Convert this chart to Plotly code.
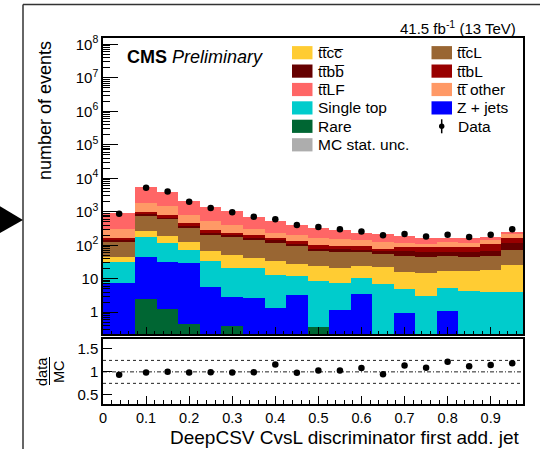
import plotly.graph_objects as go

# ---------------- data ----------------
bin_edges = [0.0, 0.075, 0.125, 0.175, 0.225, 0.275, 0.325, 0.375, 0.425, 0.475,
             0.525, 0.575, 0.625, 0.675, 0.725, 0.775, 0.825, 0.875, 0.925, 0.975]

rare = [0, 2.5, 1.26, 0.46, 0, 0.38, 0, 0, 0, 0.35, 0, 0, 0, 0, 0, 0, 0, 0, 0]
zjets = [7.5, 42.5, 29.7, 28.5, 5.7, 2.4, 2.7, 1.35, 3.2, 0, 1.2, 3.4, 0, 0.96, 0, 1.12, 0, 0, 0]
single_top = [23.5, 130, 86, 45, 27.3, 18.2, 18.3, 11.6, 8.6, 8.05, 6.3, 7.2, 7.1, 4.04, 3.1, 4.18, 4.4, 4.1, 4.1]
ttcc = [14, 95, 75, 47, 33, 31, 21, 22, 16.2, 15, 13.5, 12.8, 14.9, 10.5, 11.8, 11.3, 12.2, 13.7, 21.9]
ttcL = [76, 485, 408, 211, 139, 123, 104, 81, 64, 45.6, 45, 37.6, 34, 33.5, 31, 31.4, 28.4, 31.2, 48]
ttbb = [18, 95, 90, 48, 35, 30, 24, 23, 17, 10, 9, 9, 10, 17, 15, 14, 16, 20, 39]
ttbL = [25, 145, 100, 77, 50, 35, 26, 21, 27, 24, 23, 22, 14, 23, 25, 27, 28, 40, 57]
tt_other = [139, 875, 720, 353, 245, 165, 120, 80, 69, 61, 55, 47, 41, 28, 24, 36, 27, 37, 49]
ttLF = [647, 3530, 2390, 1290, 835, 635, 404, 295, 210, 174, 137, 101, 94, 75, 60, 45, 44, 36, 38]

data = [870, 5250, 4000, 2000, 1290, 970, 710, 600, 405, 350, 303, 258, 200, 215, 182, 205, 175, 205, 303]
ratio = [0.94, 0.985, 1.005, 0.985, 0.99, 0.985, 0.99, 1.16, 0.98, 1.03, 1.03, 1.085, 0.95,
         1.14, 1.09, 1.22, 1.12, 1.15, 1.19]
ratio_err = [0.015, 0.01, 0.01, 0.012, 0.014, 0.016, 0.018, 0.02, 0.022, 0.025, 0.028, 0.03,
             0.035, 0.04, 0.045, 0.045, 0.045, 0.045, 0.045]

y_tickvals = [1, 10, 100, 1e3, 1e4, 1e5, 1e6, 1e7, 1e8]
y_ticktext = ["1", "10", "10<sup>2</sup>", "10<sup>3</sup>", "10<sup>4</sup>", "10<sup>5</sup>",
              "10<sup>6</sup>", "10<sup>7</sup>", "10<sup>8</sup>"]
ratio_tickvals = [0.5, 1.0, 1.5]
ratio_ticktext = ["0.5", "1", "1.5"]

OV = "\u0305"
stack = [
    ("Rare", rare, "#006633"),
    ("Z + jets", zjets, "#0000ff"),
    ("Single top", single_top, "#00cccc"),
    ("tt" + OV + "cc" + OV, ttcc, "#ffcc33"),
    ("tt" + OV + "cL", ttcL, "#996633"),
    ("tt" + OV + "bb" + OV, ttbb, "#660000"),
    ("tt" + OV + "bL", ttbL, "#990000"),
    ("tt" + OV + " other", tt_other, "#ff9966"),
    ("tt" + OV + "LF", ttLF, "#ff6666"),
]

centers = [(a + b) / 2 for a, b in zip(bin_edges[:-1], bin_edges[1:])]
widths = [b - a for a, b in zip(bin_edges[:-1], bin_edges[1:])]

FONT = "Liberation Sans, Arial, Helvetica, sans-serif"

# ---------------- geometry helpers (pixels -> paper) ----------------
W, H = 540, 449
ML, MR, MT, MB = 103, 17, 38, 45
PW, PH = W - ML - MR, H - MT - MB


def px(x):
    return (x - ML) / PW


def py(y):
    return (H - MB - y) / PH


fig = go.Figure()

for name, vals, col in stack:
    fig.add_trace(go.Bar(x=centers, y=vals, width=widths, name=name,
                         marker=dict(color=col, line=dict(width=0)),
                         xaxis="x", yaxis="y", showlegend=False))

fig.add_trace(go.Scatter(x=centers, y=data, mode="markers", name="Data",
                         marker=dict(color="black", size=6.5),
                         xaxis="x", yaxis="y", showlegend=False))

fig.add_trace(go.Scatter(x=centers, y=ratio, mode="markers", name="ratio",
                         marker=dict(color="black", size=6.5),
                         error_y=dict(type="data", array=ratio_err, color="black",
                                      thickness=1.5, width=0),
                         xaxis="x2", yaxis="y2", showlegend=False))

axis_common = dict(showline=True, linecolor="black", linewidth=1.5, mirror=True,
                   showgrid=False, zeroline=False, ticks="inside", tickcolor="black",
                   tickfont=dict(family=FONT, size=15, color="black"))

fig.update_layout(
    width=W, height=H,
    margin=dict(l=ML, r=MR, t=MT, b=MB),
    paper_bgcolor="white", plot_bgcolor="white",
    barmode="stack", bargap=0,
    showlegend=False,
    font=dict(family=FONT, color="black"),
    xaxis=dict(axis_common, domain=[0, 1], anchor="y", range=[0, 0.975],
               showticklabels=False, tick0=0, dtick=0.1, ticklen=8,
               minor=dict(ticks="inside", dtick=0.02, ticklen=4, tickcolor="black")),
    yaxis=dict(axis_common, domain=[0.1904, 1], anchor="x", type="log",
               range=[-0.66, 8.19], tickmode="array", tickvals=y_tickvals,
               ticktext=y_ticktext, ticklen=15,
               minor=dict(ticks="inside", ticklen=7, tickcolor="black", dtick="D1")),
    xaxis2=dict(axis_common, domain=[0, 1], anchor="y2", range=[0, 0.975],
                matches="x", tick0=0, dtick=0.1, ticklen=8,
                tickfont=dict(family=FONT, size=14.5, color="black"),
                minor=dict(ticks="inside", dtick=0.02, ticklen=4, tickcolor="black")),
    yaxis2=dict(axis_common, domain=[0, 0.1768], anchor="x2", range=[0.3, 1.71],
                tickmode="array", tickvals=ratio_tickvals, ticktext=ratio_ticktext,
                ticklen=9),
)

# reference lines in ratio panel
for yv, dash in [(0.75, "3px,3px"), (1.25, "3px,3px"), (1.0, "4px,2px,1px,2px")]:
    fig.add_shape(type="line", xref="x2 domain", yref="y2", x0=0, x1=1, y0=yv, y1=yv,
                  line=dict(color="#222222", width=1, dash=dash), layer="below")

annos = []
# CMS Preliminary
annos.append(dict(x=px(125), y=py(57), xref="paper", yref="paper", xanchor="left",
                  yanchor="middle", showarrow=False,
                  text="<b>CMS</b> <i>Preliminary</i>",
                  font=dict(family=FONT, size=18, color="black")))
# lumi
annos.append(dict(x=px(518), y=py(28), xref="paper", yref="paper", xanchor="right",
                  yanchor="middle", showarrow=False,
                  text="41.5 fb<sup>-1</sup> (13 TeV)",
                  font=dict(family=FONT, size=15, color="black")))
# y title
annos.append(dict(x=px(45), y=py(110), xref="paper", yref="paper", xanchor="center",
                  yanchor="middle", showarrow=False, textangle=-90,
                  text="number of events",
                  font=dict(family=FONT, size=18, color="black")))
# x title
annos.append(dict(x=px(522), y=py(437.5), xref="paper", yref="paper", xanchor="right",
                  yanchor="middle", showarrow=False,
                  text="DeepCSV CvsL discriminator first add. jet",
                  font=dict(family=FONT, size=19, color="black")))
# data / MC fraction
annos.append(dict(x=px(41.5), y=py(371.5), xref="paper", yref="paper", xanchor="center",
                  yanchor="middle", showarrow=False, textangle=-90, text="data",
                  font=dict(family=FONT, size=14.5, color="black")))
annos.append(dict(x=px(58.5), y=py(371.5), xref="paper", yref="paper", xanchor="center",
                  yanchor="middle", showarrow=False, textangle=-90, text="MC",
                  font=dict(family=FONT, size=14.5, color="black")))

shapes = []
shapes.append(dict(type="line", xref="paper", yref="paper", x0=px(49.5), x1=px(49.5),
                   y0=py(357), y1=py(385), line=dict(color="black", width=1)))

# legend (manual, ROOT style two columns)
legend_items = [
    ("tt" + OV + "cc" + OV, "#ffcc33", 0, 0),
    ("tt" + OV + "cL", "#996633", 1, 0),
    ("tt" + OV + "bb" + OV, "#660000", 0, 1),
    ("tt" + OV + "bL", "#990000", 1, 1),
    ("tt" + OV + "LF", "#ff6666", 0, 2),
    ("tt" + OV + " other", "#ff9966", 1, 2),
    ("Single top", "#00cccc", 0, 3),
    ("Z + jets", "#0000ff", 1, 3),
    ("Rare", "#006633", 0, 4),
    ("MC stat. unc.", "#adadad", 0, 5),
]
row_y = [52.7, 71.1, 89.5, 107.9, 126.3, 144.8]
col_x = [292, 431.5]
for label, col, c, r in legend_items:
    x0 = col_x[c]
    yc = row_y[r]
    shapes.append(dict(type="rect", xref="paper", yref="paper",
                       x0=px(x0), x1=px(x0 + 20.5), y0=py(yc + 6.6), y1=py(yc - 6.6),
                       fillcolor=col, line=dict(width=0)))
    annos.append(dict(x=px(x0 + 23.5), y=py(yc), xref="paper", yref="paper",
                      xanchor="left", yanchor="middle", showarrow=False, text=label,
                      font=dict(family=FONT, size=15.5, color="black")))
# Data legend entry
shapes.append(dict(type="line", xref="paper", yref="paper", x0=px(441.7), x1=px(441.7),
                   y0=py(row_y[4] - 7), y1=py(row_y[4] + 7), line=dict(color="black", width=1.5)))
shapes.append(dict(type="circle", xref="paper", yref="paper", x0=px(439), x1=px(444.4),
                   y0=py(row_y[4] + 2.7), y1=py(row_y[4] - 2.7), fillcolor="black",
                   line=dict(width=0)))
annos.append(dict(x=px(455.7), y=py(row_y[4]), xref="paper", yref="paper",
                  xanchor="left", yanchor="middle", showarrow=False, text="Data",
                  font=dict(family=FONT, size=15.5, color="black")))

# slide frame around the plot and the arrow on the left
shapes.append(dict(type="line", xref="paper", yref="paper", x0=px(23), x1=px(541),
                   y0=py(4.6), y1=py(4.6), line=dict(color="#333333", width=1.5)))
shapes.append(dict(type="line", xref="paper", yref="paper", x0=px(23), x1=px(23),
                   y0=py(4.6), y1=py(450), line=dict(color="#333333", width=1.5)))
shapes.append(dict(type="path", xref="paper", yref="paper",
                   path="M {:.5f},{:.5f} L {:.5f},{:.5f} L {:.5f},{:.5f} Z".format(
                       px(-2), py(205), px(23), py(220), px(-2), py(234)),
                   fillcolor="black", line=dict(width=0)))

fig.update_layout(annotations=annos, shapes=list(fig.layout.shapes) + shapes)

fig.write_html("out.html")
